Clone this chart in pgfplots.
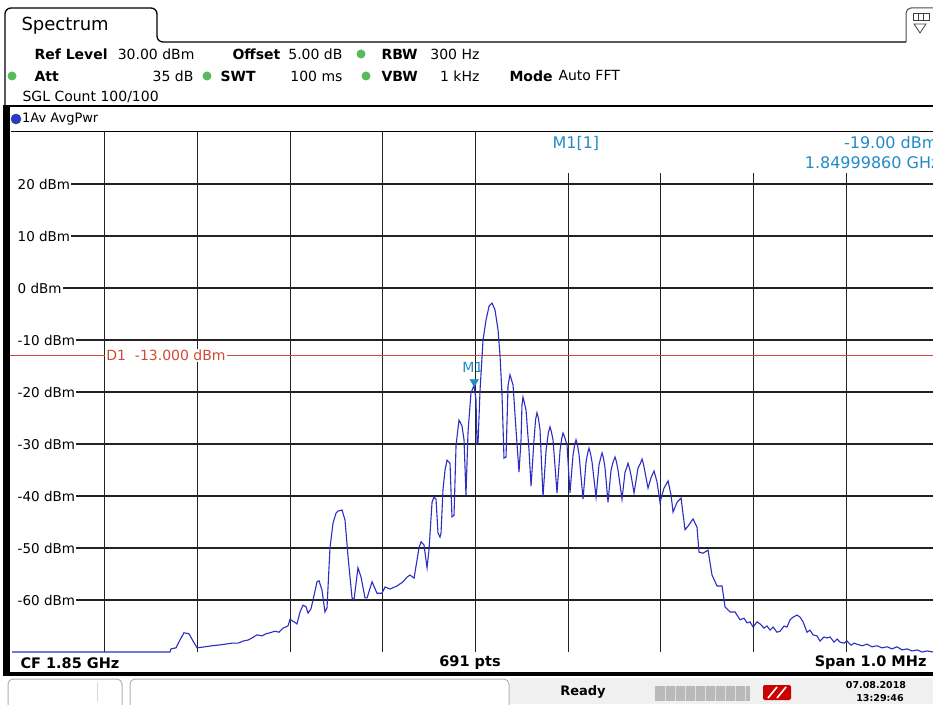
\documentclass[border=0pt]{standalone}
\usepackage{fontspec}
\setmainfont{DejaVu Sans}
\usepackage{pgfplots}
\pgfplotsset{compat=1.18}
\definecolor{trace}{RGB}{45,45,195}
\definecolor{dline}{RGB}{205,75,55}
\definecolor{mk}{RGB}{35,140,200}
\definecolor{dgreen}{RGB}{90,185,90}
\definecolor{dblue}{RGB}{30,60,215}
\definecolor{gridc}{RGB}{35,35,35}
\newcommand\fs[1]{\fontsize{#1}{#1}\selectfont}
\begin{document}
\begin{tikzpicture}[x=1pt,y=1pt]
\useasboundingbox (0,0) rectangle (933,704);
\fill[white] (0,0) rectangle (933,704);
% ---------- top tab ----------
\draw[line width=1.3, rounded corners=6] (5,598) -- (5,696) -- (157,696) -- (157,662) -- (906,662);
\node[anchor=west, font=\fs{18}] at (18,678) {Spectrum};
\draw[line width=1, gray!60!black, rounded corners=5] (906,662) -- (906,696) -- (945,696);
\draw[line width=0.8, gray!50!black] (913,684) rectangle (929,691);
\draw[line width=0.8, gray!50!black] (918.3,684) -- (918.3,691) (923.6,684) -- (923.6,691);
\draw[line width=0.8, gray!50!black] (914,680) -- (926,680) -- (920,671) -- cycle;
% ---------- header ----------
\node[anchor=west, font=\fs{14}\bfseries] at (31,650) {Ref Level};
\node[anchor=east, font=\fs{14}] at (198,650) {30.00 dBm};
\node[anchor=west, font=\fs{14}\bfseries] at (229,650) {Offset};
\node[anchor=east, font=\fs{14}] at (346,650) {5.00 dB};
\fill[dgreen] (361,650) circle (4.5);
\node[anchor=west, font=\fs{14}\bfseries] at (378,650) {RBW};
\node[anchor=east, font=\fs{14}] at (483,650) {300 Hz};
\fill[dgreen] (12,628) circle (4.5);
\node[anchor=west, font=\fs{14}\bfseries] at (31,628) {Att};
\node[anchor=east, font=\fs{14}] at (197,628) {35 dB};
\fill[dgreen] (207,628) circle (4.5);
\node[anchor=west, font=\fs{14}\bfseries] at (217,628) {SWT};
\node[anchor=east, font=\fs{14}] at (346,628) {100 ms};
\fill[dgreen] (366,628) circle (4.5);
\node[anchor=west, font=\fs{14}\bfseries] at (378,628) {VBW};
\node[anchor=east, font=\fs{14}] at (483,628) {1 kHz};
\node[anchor=west, font=\fs{14}\bfseries] at (506,628) {Mode};
\node[anchor=west, font=\fs{14}] at (555,628) {Auto FFT};
\node[anchor=west, font=\fs{14}] at (19,607) {SGL Count 100/100};
% ---------- frame ----------
\draw[line width=2.2] (3,598) -- (933,598);
\fill[dblue] (16,585) circle (5);
\draw[line width=0.6, black!70] (16,585) circle (5);
\node[anchor=west, font=\fs{13}, inner sep=1pt] at (21,585) {1Av AvgPwr};
\draw[line width=1.3] (11,572.5) -- (933,572.5);
% ---------- axis ----------
\begin{axis}[
  at={(12pt,52pt)}, anchor=south west,
  scale only axis, width=921pt, height=520pt,
  xmin=-500, xmax=493.5, ymin=-70, ymax=30,
  axis line style={draw=none},
  xtick={-400,-300,...,400}, ytick={-60,-50,...,20},
  xticklabels={},
  yticklabels={-60 dBm,-50 dBm,-40 dBm,-30 dBm,-20 dBm,-10 dBm,0 dBm,10 dBm,20 dBm},
  major tick length=0pt,
  grid=major, major grid style={gridc, line width=1.1pt},
  yticklabel style={anchor=west, fill=white, inner xsep=1pt, inner ysep=2pt, xshift=4.5pt, font=\fs{13.5}, text=black},
  clip=false,
]
\addplot[dline, line width=1.2pt] coordinates {(-500,-13) (493.5,-13)};
\node[anchor=west, fill=white, inner xsep=1.5pt, inner ysep=1pt, text=dline, font=\fs{14}] at (axis cs:-400,-13) {D1\ \ -13.000 dBm};
\addplot[trace, line width=1.1pt, sharp plot] coordinates {
(-500,-70) (-329.6,-70) (-328.5,-69.4) (-323.1,-69.2) (-318.8,-67.7) (-314.5,-66.3) (-309.1,-66.5) (-304.7,-67.9)
(-300.4,-69.2) (-291.8,-69.0) (-284.3,-68.8) (-278.9,-68.7) (-270.2,-68.5) (-262.7,-68.3) (-256.2,-68.3) (-250.8,-67.9)
(-245.4,-67.7) (-241.1,-67.3) (-235.7,-66.7) (-230.3,-66.9) (-226.0,-66.5) (-221.7,-66.3) (-216.3,-66.0) (-212.0,-66.2)
(-207.7,-65.4) (-202.3,-65.0) (-200.1,-63.7) (-195.8,-64.2) (-192.6,-64.6) (-189.3,-62.3) (-186.1,-61.0) (-182.8,-61.3)
(-180.7,-62.5) (-177.5,-61.7) (-175.3,-60.0) (-171.0,-56.5) (-168.8,-56.3) (-165.6,-58.1) (-162.4,-62.3) (-160.2,-61.5)
(-157.0,-50.0) (-153.7,-45.2) (-150.5,-43.3) (-148.3,-42.9) (-144.0,-42.7) (-140.8,-44.6) (-137.5,-51.7) (-133.2,-59.6)
(-131.1,-60.0) (-126.8,-53.8) (-123.5,-55.6) (-119.2,-59.6) (-117.0,-59.6) (-111.6,-56.5) (-106.3,-58.7) (-100.9,-58.7)
(-97.6,-57.5) (-92.2,-57.9) (-84.7,-57.3) (-78.2,-56.5) (-73.9,-55.6) (-70.7,-55.2) (-66.3,-55.8) (-61.0,-50.0)
(-58.8,-48.8) (-55.6,-49.4) (-52.3,-53.8) (-50.2,-50.4) (-46.9,-41.2) (-44.8,-40.2) (-42.6,-40.6) (-40.5,-47.1)
(-38.3,-47.9) (-37.2,-47.1) (-35.1,-38.8) (-32.9,-35.0) (-30.7,-33.1) (-27.5,-33.7) (-25.4,-44.0) (-23.2,-43.7)
(-21.0,-30.2) (-17.8,-25.4) (-14.6,-26.5) (-12.4,-29.2) (-10.3,-39.8) (-8.1,-27.7) (-4.9,-20.2) (-1.6,-18.7)
(0.5,-21.5) (1.6,-29.8) (2.7,-29.8) (4.9,-19.6) (8.1,-10.0) (11.3,-6.2) (14.6,-3.5) (17.8,-2.9)
(21.0,-4.2) (24.3,-8.1) (26.4,-12.9) (28.6,-20.6) (30.7,-32.7) (32.9,-32.5) (35.1,-18.7) (37.2,-16.7)
(40.5,-18.7) (43.7,-27.3) (46.9,-35.4) (49.1,-29.2) (50.1,-22.5) (51.2,-21.0) (52.6,-22.0) (54.5,-23.5) (57.7,-31.2) (59.9,-38.1)
(63.1,-29.2) (64.8,-25.3) (66.3,-24.0) (67.8,-25.0) (69.6,-27.3) (72.8,-40.2) (76.1,-31.2) (78.6,-27.8) (80.4,-26.7) (82.0,-27.8) (83.6,-29.2) (87.9,-39.4)
(91.2,-31.2) (92.9,-29.0) (94.4,-27.9) (96.2,-28.7) (98.7,-30.2) (101.9,-39.4) (105.2,-32.1) (106.9,-30.2) (108.4,-29.2) (110.0,-30.2) (111.7,-32.1) (116.0,-40.6)
(119.2,-33.5) (120.9,-31.8) (122.4,-30.8) (124.0,-31.8) (125.7,-33.5) (130.0,-40.2) (133.2,-34.0) (135.0,-32.7) (136.5,-31.7) (138.0,-32.7) (139.7,-34.6) (142.9,-41.2)
(146.2,-35.0) (148.5,-33.4) (150.5,-32.5) (152.0,-33.4) (153.7,-35.0) (158.0,-40.6) (161.3,-35.4) (163.0,-34.6) (164.5,-33.7) (166.0,-34.6) (167.7,-36.0) (171.0,-39.4)
(175.3,-34.6) (177.7,-33.8) (179.6,-32.9) (181.2,-33.9) (182.8,-35.4) (186.1,-38.5) (189.3,-36.5) (192.6,-35.2) (195.8,-37.3) (199.0,-41.2)
(203.3,-38.5) (207.7,-37.1) (210.9,-39.8) (213.1,-43.1) (217.4,-41.2) (221.7,-40.4) (226.0,-46.5) (229.2,-45.8)
(234.6,-44.4) (238.9,-46.0) (241.1,-50.8) (245.4,-51.0) (250.8,-50.4) (255.1,-55.2) (260.5,-57.3) (265.9,-57.3)
(269.1,-61.3) (274.5,-62.3) (279.9,-62.3) (285.3,-63.8) (289.6,-63.5) (292.9,-64.4) (296.1,-64.2) (299.4,-65.2)
(303.7,-64.2) (306.9,-64.6) (311.2,-65.4) (314.5,-65.0) (317.7,-65.8) (320.9,-65.2) (325.2,-66.2) (328.5,-66.0)
(332.8,-65.0) (336.0,-65.2) (339.3,-63.8) (342.5,-63.3) (346.8,-62.9) (350.1,-63.3) (353.3,-64.2) (357.6,-66.2)
(360.8,-65.8) (364.1,-66.7) (368.4,-66.9) (371.6,-67.9) (375.9,-67.1) (379.2,-67.3) (382.4,-67.1) (386.7,-68.1)
(390.0,-67.5) (393.2,-68.1) (397.5,-68.3) (400.8,-67.9) (405.1,-68.7) (408.3,-68.3) (411.5,-68.5) (416.9,-68.8)
(422.3,-68.5) (427.7,-69.0) (433.1,-68.8) (438.5,-69.2) (443.9,-69.0) (449.3,-69.4) (454.7,-69.0) (460.1,-69.6)
(465.5,-69.4) (470.9,-69.8) (476.3,-69.6) (481.7,-70.0) (487.1,-69.8) (493.5,-70.0)
};
\addplot[only marks, mark=triangle*, mark size=5pt, mk, mark options={yshift=5pt, rotate=180}] coordinates {(-1.4,-19.0)};
\node[text=mk, font=\fs{14}, inner sep=0pt] at (axis cs:-3,-19) [yshift=19pt] {M1};
\end{axis}
% ---------- cover grid stubs left of the level labels ----------
\fill[white] (9.5,80) rectangle (17.4,571.5);
\draw[dline, line width=1.2] (9.5,348.4) -- (18,348.4);
% ---------- marker info (covers grid) ----------
\fill[white] (478,531) rectangle (933,571.8);
\node[anchor=west, text=mk, font=\fs{16}] at (549,561) {M1[1]};
\node[anchor=east, text=mk, font=\fs{16}] at (941,561) {-19.00 dBm};
\node[anchor=east, text=mk, font=\fs{16}] at (943,541) {1.84999860 GHz};
% ---------- bottom bar ----------
\node[anchor=west, font=\fs{14.5}\bfseries] at (17,41) {CF 1.85 GHz};
\node[font=\fs{14.5}\bfseries] at (470,41) {691 pts};
\node[anchor=east, font=\fs{14.5}\bfseries] at (930,41) {Span 1.0 MHz};
\fill[black] (3,28) rectangle (9.5,598);
\fill[black] (3,28) rectangle (933,32);
% ---------- status bar ----------
\fill[gray!12] (510,0) rectangle (933,26);
\draw[gray!60, line width=1, rounded corners=5] (8,-10) -- (8,25) -- (122,25) -- (122,-10);
\draw[gray!30, line width=0.8] (97,2) -- (97,22);
\draw[gray!60, line width=1, rounded corners=5] (130,-10) -- (130,25) -- (509,25) -- (509,-10);
\node[font=\fs{13}\bfseries] at (583,12) {Ready};
\fill[gray!55] (655,3) rectangle (750,18);
\foreach \i in {665,675,...,745} \draw[gray!25, line width=0.8] (\i,3) -- (\i,18);
\fill[red!80!black, rounded corners=2] (763,4) rectangle (791,19);
\draw[white, line width=1.6] (768,6) -- (777,17) (777,6) -- (786,17);
\node[font=\fs{9.5}\bfseries] at (876,19) {07.08.2018};
\node[font=\fs{9.5}\bfseries] at (880,6) {13:29:46};
\end{tikzpicture}
\end{document}
